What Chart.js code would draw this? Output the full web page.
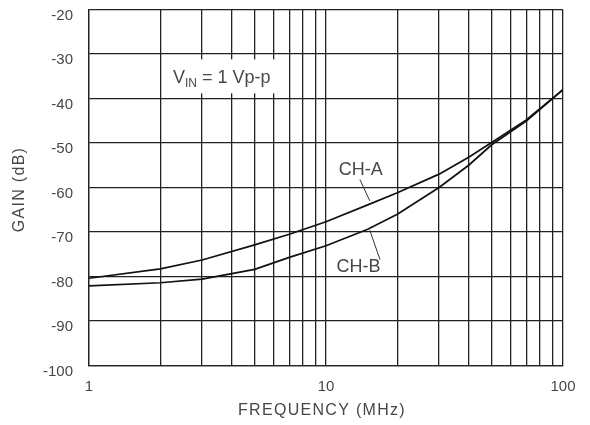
<!DOCTYPE html>
<html>
<head>
<meta charset="utf-8">
<script src="https://cdn.jsdelivr.net/npm/chart.js@4"></script>
<style>
  html, body { margin: 0; padding: 0; background: #fff; }
  #wrap { width: 590px; height: 425px; }
</style>
</head>
<body>
<div id="wrap"><canvas id="gain"></canvas></div>
<script>
// frequency (MHz) and gain (dB)
const FREQ = [1, 2, 3, 5, 7, 10, 15, 20, 30, 40, 50, 70, 100];
const CH_A = [-80.4, -78.3, -76.3, -72.9, -70.5, -67.7, -63.9, -61.2, -57.0, -53.2, -49.9, -44.8, -38.0];
const CH_B = [-82.1, -81.4, -80.6, -78.4, -75.7, -73.1, -69.4, -66.0, -60.0, -55.0, -50.4, -45.1, -38.0];
const X_TICKS = [1, 2, 3, 4, 5, 6, 7, 8, 9, 10, 20, 30, 40, 50, 60, 70, 80, 90, 100];
const X_LABELS = [1, 10, 100];

const INK = "#222";
const TEXT = "#474747";
const FONT = "'Liberation Sans', Arial, sans-serif";

function pts(ys) { return FREQ.map((f, i) => ({ x: f, y: ys[i] })); }

function noPad(s) {
  s.paddingTop = 0; s.paddingBottom = 0; s.paddingLeft = 0; s.paddingRight = 0;
}

// text, leader lines and axis titles
const notes = {
  id: "notes",
  beforeDatasetsDraw(chart) {
    const { ctx, scales: { x, y } } = chart;
    // white box behind the V_IN note
    const bx = x.getPixelForValue(2.2), by = y.getPixelForValue(-31.2);
    ctx.save();
    ctx.fillStyle = "#fff";
    ctx.fillRect(bx - 6, by, 116, 34);
    ctx.restore();
  },
  afterDraw(chart) {
    const { ctx, scales: { x, y } } = chart;
    ctx.save();
    ctx.fillStyle = TEXT;
    ctx.textBaseline = "alphabetic";

    // V_IN = 1 Vp-p
    let px = x.getPixelForValue(2.26), py = y.getPixelForValue(-36.6);
    ctx.font = "18px " + FONT;
    ctx.fillText("V", px, py);
    px += ctx.measureText("V").width;
    ctx.font = "12px " + FONT;
    ctx.fillText("IN", px, py + 4);
    px += ctx.measureText("IN").width;
    ctx.font = "18px " + FONT;
    ctx.fillText(" = 1 Vp-p", px, py);

    // curve labels
    ctx.textAlign = "center";
    ctx.fillText("CH-A", x.getPixelForValue(14.0), y.getPixelForValue(-57.2));
    ctx.fillText("CH-B", x.getPixelForValue(13.7), y.getPixelForValue(-79.0));

    ctx.strokeStyle = "#333";
    ctx.lineWidth = 1;
    ctx.beginPath();
    ctx.moveTo(x.getPixelForValue(13.9), y.getPixelForValue(-58.2));
    ctx.lineTo(x.getPixelForValue(15.3), y.getPixelForValue(-63.0));
    ctx.moveTo(x.getPixelForValue(15.3), y.getPixelForValue(-69.6));
    ctx.lineTo(x.getPixelForValue(16.9), y.getPixelForValue(-76.2));
    ctx.stroke();

    // axis titles
    ctx.font = "16px " + FONT;
    ctx.letterSpacing = "1.3px";
    ctx.textBaseline = "middle";
    const cx = (x.left + x.right) / 2 - 4;
    ctx.fillText("FREQUENCY (MHz)", cx, 411);
    ctx.translate(20, (y.top + y.bottom) / 2 + 2);
    ctx.rotate(-Math.PI / 2);
    ctx.fillText("GAIN (dB)", 0, 0);
    ctx.restore();
  }
};

new Chart(document.getElementById("gain"), {
  type: "line",
  data: {
    datasets: [
      { label: "CH-A", data: pts(CH_A) },
      { label: "CH-B", data: pts(CH_B) },
    ],
  },
  options: {
    responsive: true, maintainAspectRatio: false, animation: false,
    layout: { padding: { top: 9.5, right: 27, left: 0, bottom: 0 } },
    elements: {
      line: { borderColor: "#111", borderWidth: 1.7, tension: 0 },
      point: { radius: 0 },
    },
    plugins: { legend: { display: false }, tooltip: { enabled: false } },
    scales: {
      x: {
        type: "logarithmic", min: 1, max: 100,
        afterBuildTicks: (s) => { s.ticks = X_TICKS.map((v) => ({ value: v })); },
        afterFit: (s) => { s.height = 59.5; noPad(s); },
        grid: { color: INK, lineWidth: 1.3, drawTicks: false },
        border: { color: INK, width: 1.3 },
        ticks: {
          autoSkip: false, maxRotation: 0, padding: 12,
          color: TEXT, font: { family: FONT, size: 15 },
          callback: (v) => (X_LABELS.includes(v) ? String(v) : ""),
        },
      },
      y: {
        min: -100, max: -20,
        afterFit: (s) => { s.width = 89; noPad(s); },
        grid: { color: INK, lineWidth: 1.3, drawTicks: false },
        border: { color: INK, width: 1.3 },
        ticks: {
          stepSize: 10, padding: 16, labelOffset: 6,
          color: TEXT, font: { family: FONT, size: 15 },
        },
      },
    },
  },
  plugins: [notes],
});
</script>
</body>
</html>
